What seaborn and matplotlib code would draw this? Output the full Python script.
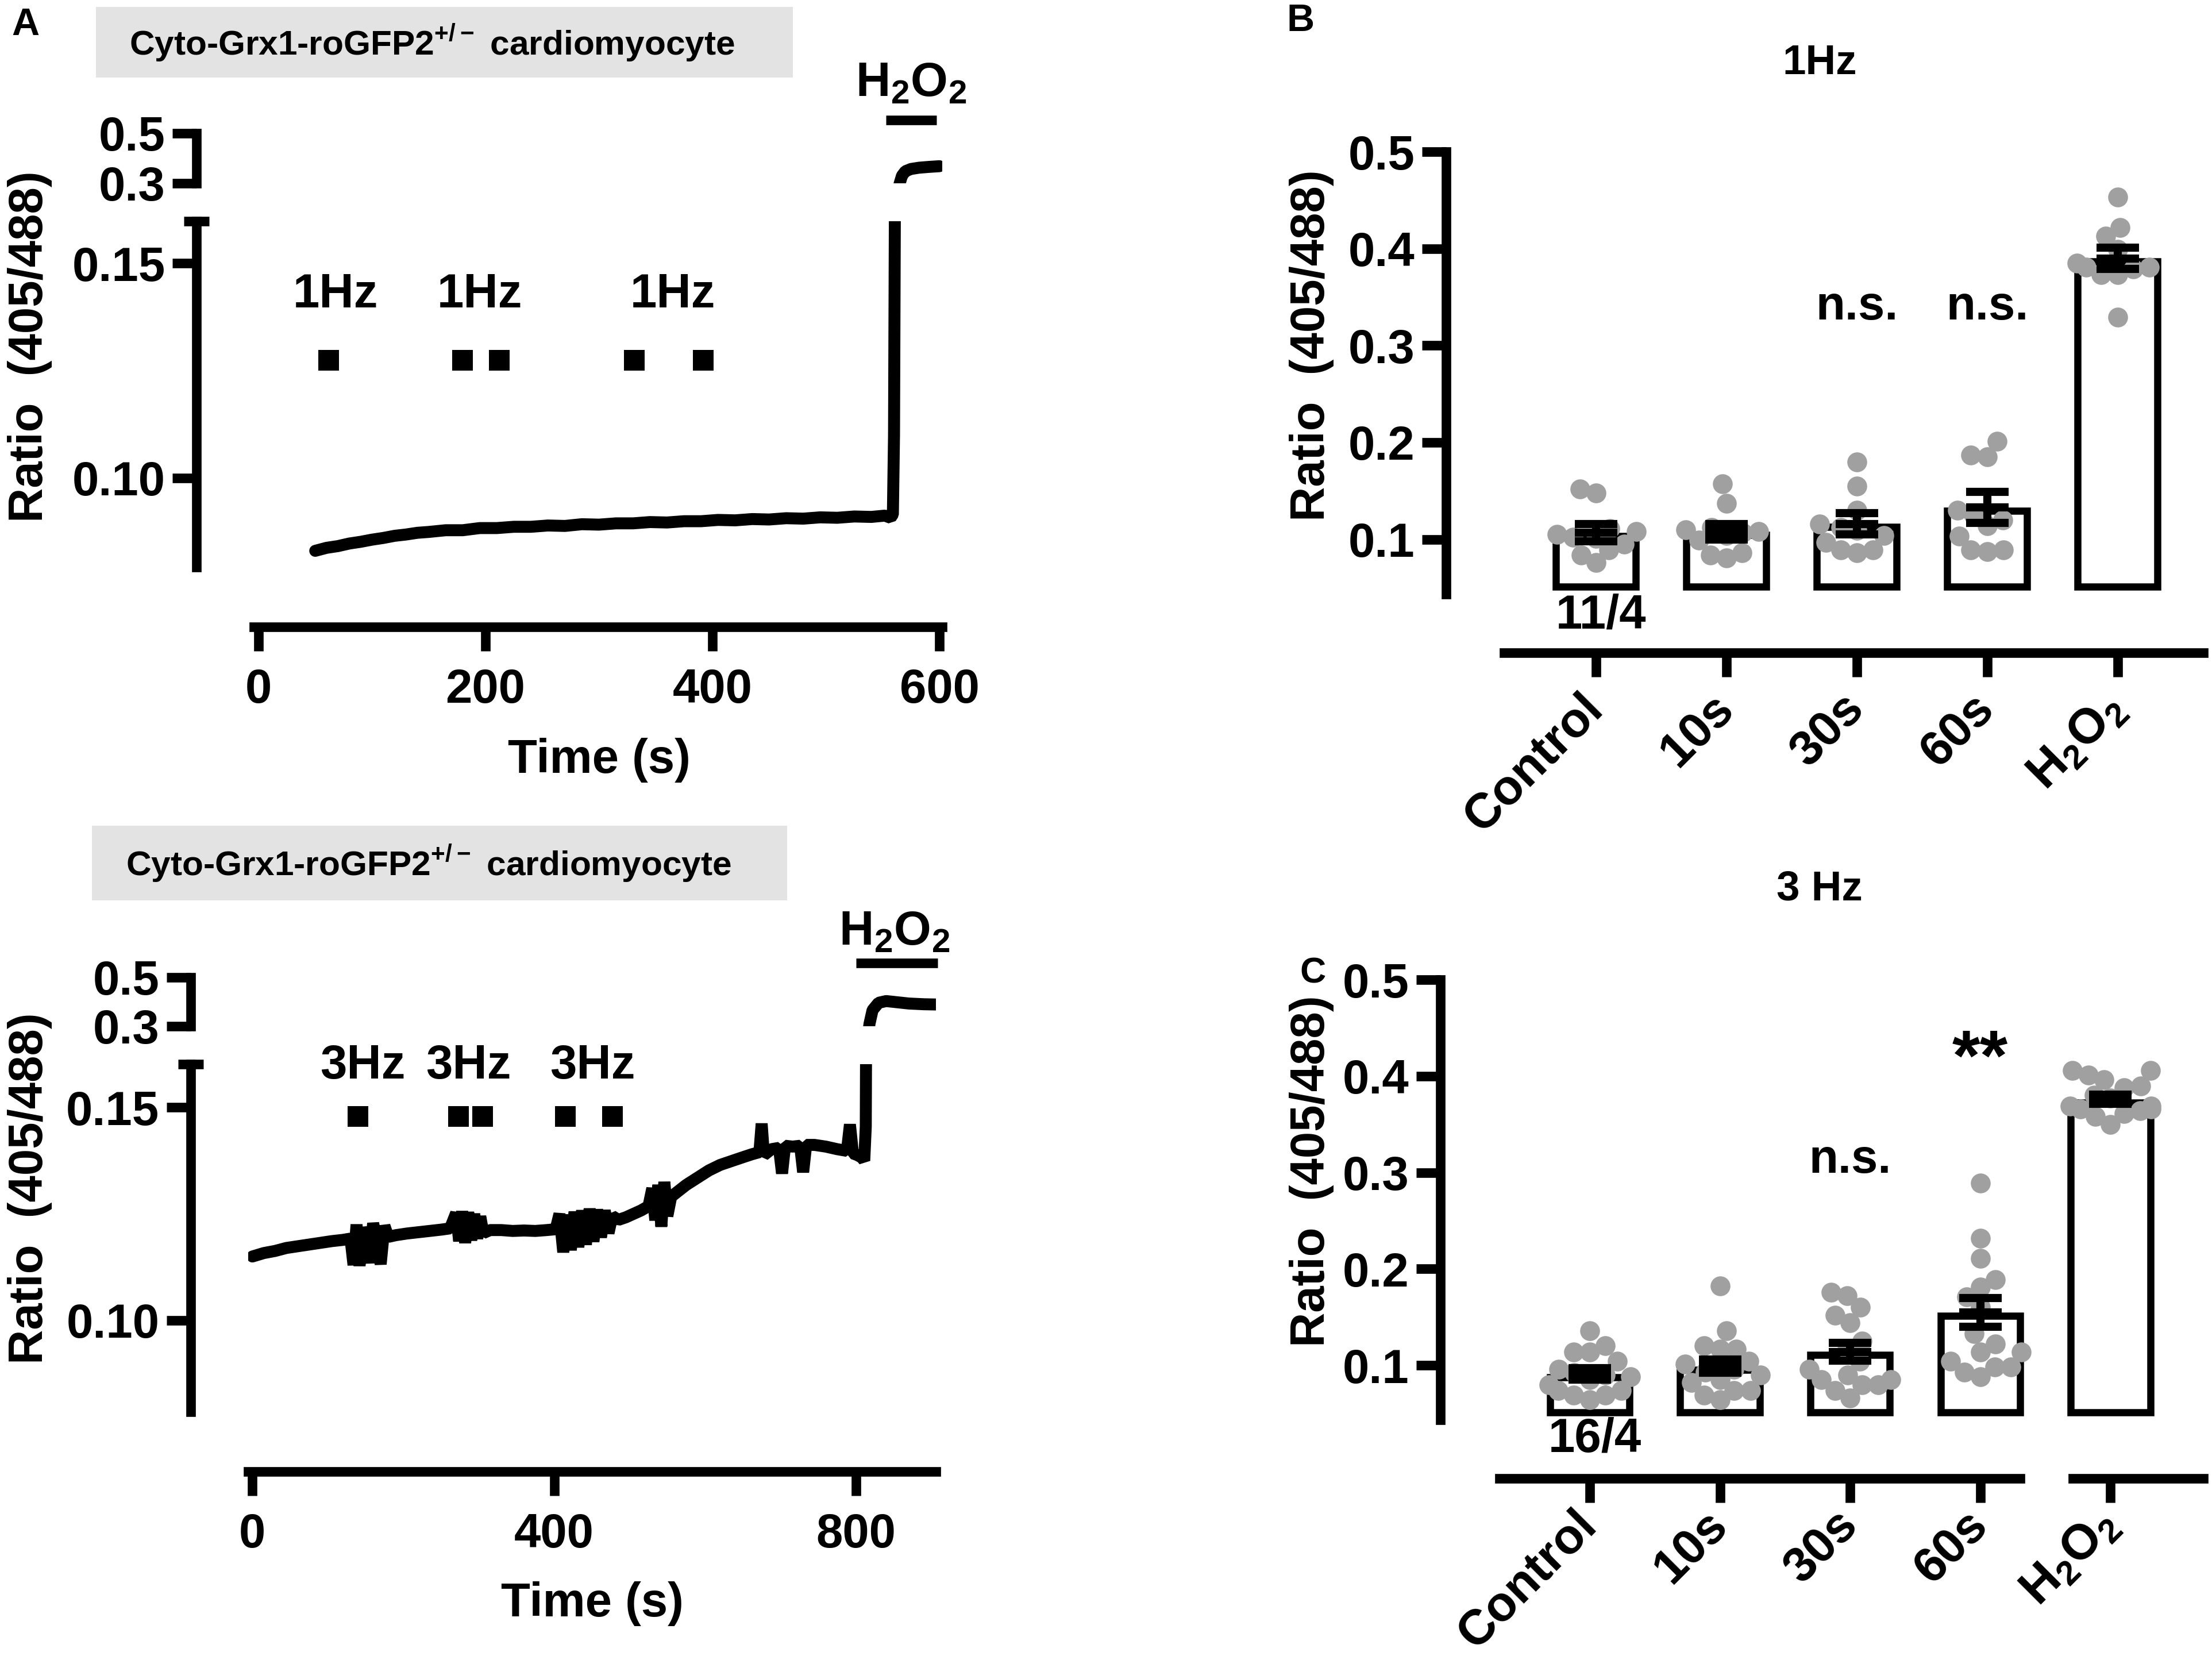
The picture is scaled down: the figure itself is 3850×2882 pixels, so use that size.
import numpy as np
import pandas as pd
import seaborn as sns
import matplotlib.pyplot as plt
from matplotlib.patches import Rectangle

# ---- data ----
# panel A (top): cytosolic ratio trace, 1 Hz pacing, then H2O2
trace_1hz = [(50, .0830), (60, .0837), (70, .0841), (80, .0847), (90, .0851), (100, .0856),
             (110, .0860), (120, .0865), (130, .0868), (140, .0872), (150, .0874), (165, .0878),
             (180, .0878), (195, .0883), (210, .0883), (225, .0886), (240, .0886), (255, .0889),
             (270, .0888), (285, .0892), (300, .0891), (315, .0894), (330, .0894), (345, .0897),
             (360, .0896), (375, .0899), (390, .0899), (405, .0902), (420, .0901), (435, .0904),
             (450, .0903), (465, .0906), (480, .0905), (495, .0908), (510, .0907), (525, .0910),
             (540, .0909), (552, .0912), (557, .0907), (559, .0915), (560, .1100), (561, .1800),
             (563, .2600), (565, .3000), (567, .3300), (570, .3480), (575, .3570), (582, .3620),
             (590, .3650), (600, .3680)]
stim_1hz = [62, 180, 212, 331, 392]
label_1hz = [68, 195, 365]

# panel A (bottom): 3 Hz pacing, then H2O2
trace_3hz = [(0, .1150), (15, .1158), (30, .1163), (45, .1170), (60, .1174), (75, .1178),
             (90, .1182), (105, .1186), (120, .1189), (130, .1192), (134, .1130), (138, .1225),
             (142, .1128), (146, .1218), (150, .1190), (155, .1135), (160, .1228), (165, .1185),
             (170, .1132), (175, .1222), (180, .1196), (190, .1200), (205, .1204), (220, .1207),
             (235, .1210), (250, .1213), (262, .1216), (270, .1252), (274, .1186), (278, .1256),
             (282, .1182), (286, .1254), (290, .1188), (294, .1250), (298, .1192), (302, .1244),
             (306, .1205), (315, .1212), (330, .1212), (345, .1210), (360, .1211), (375, .1210),
             (390, .1212), (402, .1214), (407, .1250), (412, .1160), (417, .1248), (422, .1165),
             (427, .1255), (432, .1172), (437, .1258), (442, .1178), (447, .1262), (452, .1185),
             (457, .1260), (462, .1195), (467, .1258), (472, .1205), (477, .1245), (485, .1236),
             (495, .1242), (505, .1250), (515, .1258), (525, .1268), (530, .1310), (534, .1235),
             (538, .1318), (542, .1220), (546, .1325), (550, .1245), (555, .1290), (562, .1300),
             (575, .1318), (590, .1335), (605, .1352), (620, .1365), (635, .1374), (650, .1383),
             (662, .1390), (672, .1395), (675, .1462), (678, .1388), (688, .1402), (698, .1405),
             (702, .1345), (706, .1410), (716, .1408), (726, .1410), (730, .1348), (734, .1412),
             (745, .1412), (760, .1408), (775, .1402), (788, .1398), (792, .1460), (796, .1392),
             (802, .1388), (808, .1382), (811, .1375), (813, .1455), (815, .2400), (818, .3100),
             (822, .3650), (830, .3950), (840, .4020), (855, .3970), (870, .3920), (890, .3890),
             (906, .3880)]
stim_3hz = [140, 273, 305, 415, 477]
label_3hz = [146, 286, 451]

# panels B / C: single cells, mean and SEM
conds = ["Control", "10s", "30s", "60s", "H2O2"]
cond_labels = ["Control", "10s", "30s", "60s", r"H$_{\mathrm{2}}$O$_{\mathrm{2}}$"]

b_points = {
    "Control": [.148, .152, .101, .111, .095, .084, .089, .076, .105, .108, .102],
    "10s": [.157, .137, .107, .081, .099, .084, .112, .086, .104, .108, .110],
    "30s": [.180, .155, .130, .109, .086, .089, .089, .097, .104, .112, .116],
    "60s": [.201, .185, .187, .114, .103, .089, .089, .087, .130, .125, .120],
    "H2O2": [.453, .422, .413, .399, .381, .379, .381, .373, .373, .329, .385],
}
b_mean = [0.107, 0.108, 0.116, 0.133, 0.390]
b_sem = [0.009, 0.008, 0.011, 0.016, 0.011]

c_points = {
    "Control": [.136, .120, .114, .114, .104, .096, .080, .074, .069, .069, .085, .090, .064, .074, .092, .088],
    "10s": [.182, .136, .120, .117, .117, .104, .101, .096, .085, .082, .074, .069, .064, .074, .090, .093],
    "30s": [.176, .172, .160, .152, .144, .125, .117, .104, .096, .090, .085, .085, .080, .080, .066, .074],
    "60s": [.289, .232, .211, .189, .181, .171, .160, .133, .122, .114, .114, .104, .098, .098, .093, .088],
    "H2O2": [.406, .406, .401, .396, .390, .388, .377, .380, .369, .366, .366, .364, .361, .358, .350, .369],
}
c_mean = [0.091, 0.099, 0.114, 0.155, 0.376]
c_sem = [0.006, 0.007, 0.009, 0.015, 0.005]

# ---- style ----
W, H = 3850, 2882
LW = 4.0
GRAY = "#a0a0a0"
SQUEEZE = 0.78   # Prism packs the dots tighter than a seaborn swarm

sns.set_theme(style="ticks")
plt.rcParams["font.family"] = ["Liberation Sans", "DejaVu Sans"]
plt.rcParams["font.weight"] = "bold"
plt.rcParams["mathtext.fontset"] = "custom"
plt.rcParams["mathtext.rm"] = "Liberation Sans"
plt.rcParams["mathtext.bf"] = "Liberation Sans:bold"
plt.rcParams["axes.linewidth"] = LW
plt.rcParams["axes.edgecolor"] = "black"
plt.rcParams["text.color"] = "black"
plt.rcParams["axes.labelcolor"] = "black"
plt.rcParams["xtick.color"] = "black"
plt.rcParams["ytick.color"] = "black"


def fx(px):
    return px / W


def fy(py):
    return 1 - py / H


def rect(x0, y0, x1, y1):
    return [fx(x0), fy(y1), fx(x1) - fx(x0), fy(y0) - fy(y1)]


def style_axis(ax, size=20):
    for s in ("top", "right"):
        ax.spines[s].set_visible(False)
    for s in ("left", "bottom"):
        ax.spines[s].set_capstyle("projecting")
    ax.tick_params(axis="both", direction="out", length=10, width=LW, labelsize=size, pad=3)
    ax.set_xlabel("")
    ax.set_ylabel("")
    ax.patch.set_alpha(0)


fig = plt.figure(figsize=(W / 300, H / 300), dpi=300)


def trace_panel(lo_box, hi_box, trace, lo_lim, xlim, xticks, stim, stim_y, labels, label_y,
                label_txt, h2o2_x, h2o2_bar, h2o2_y):
    t = [p[0] for p in trace]
    r = [p[1] for p in trace]
    lo = fig.add_axes(rect(*lo_box))
    hi = fig.add_axes(rect(*hi_box))
    for ax in (lo, hi):
        sns.lineplot(x=t, y=r, ax=ax, color="black", lw=5.0, estimator=None, sort=False,
                     solid_joinstyle="bevel")
        style_axis(ax)
        ax.set_xlim(xlim)
        ax.spines["left"].set_position(("outward", 24))
    lo.set_ylim(lo_lim)
    lo.set_yticks([0.10, 0.15])
    lo.set_yticklabels(["0.10", "0.15"])
    lo.spines["bottom"].set_position(("outward", 25))
    lo.set_xticks(xticks)
    lo.set_xticklabels([str(v) for v in xticks])
    lo.tick_params(axis="x", pad=7)
    # break mark at the top of the lower segment
    lo.plot([0], [lo_lim[1]], marker="_", ms=10.5, mew=LW, color="black",
            transform=lo.spines["left"].get_spine_transform(), clip_on=False)

    hi.set_ylim(0.3, 0.5)
    hi.set_yticks([0.3, 0.5])
    hi.set_yticklabels(["0.3", "0.5"])
    hi.spines["bottom"].set_visible(False)
    hi.set_xticks([])

    sns.scatterplot(x=stim, y=[stim_y] * len(stim), ax=lo, marker="s", s=78, color="black",
                    linewidth=0)
    lo.set_xlabel("")
    lo.set_ylabel("")
    for x in labels:
        lo.text(x, label_y, label_txt, ha="center", va="baseline", size=20)

    hi.plot(h2o2_bar, [h2o2_y[0]] * 2, color="black", lw=LW, clip_on=False,
            solid_capstyle="butt")
    hi.text(h2o2_x, h2o2_y[1], r"H$_\mathbf{2}$O$_\mathbf{2}$", ha="center", va="baseline",
            size=20, clip_on=False)
    return lo, hi


# panel A top
trace_panel((442, 385, 1640, 987), (442, 231.5, 1640, 319), trace_1hz, (0.0792, 0.1598),
            (-4, 602.5), [0, 200, 400, 600], stim_1hz, 0.1274, label_1hz, 0.1397, "1Hz",
            575, [553, 597.5], (0.552, 0.647))
# panel A bottom
trace_panel((431.6, 1851.7, 1629, 2456.5), (431.6, 1700.5, 1629, 1785.6), trace_3hz,
            (0.0786, 0.1602), (-5.9, 906), [0, 400, 800], stim_3hz, 0.1479, label_3hz, 0.1568,
            "3Hz", 851, [800, 908.6], (0.5576, 0.633))

# gray headers
for (x0, y0, x1, y1), (tx, ty) in [((167, 12, 1380, 135), (752, 75)),
                                   ((160, 1437, 1370, 1567), (746, 1502))]:
    fig.add_artist(Rectangle((fx(x0), fy(y1)), fx(x1) - fx(x0), fy(y0) - fy(y1),
                             transform=fig.transFigure, facecolor="#e3e3e3",
                             edgecolor="none", zorder=0))
    fig.text(fx(tx), fy(ty), r"Cyto-Grx1-roGFP2$^{\mathbf{+/-}}$ cardiomyocyte",
             ha="center", va="center", size=14.5)

for y in (603, 2068):
    fig.text(fx(52), fy(y), "Ratio  (405/488)", rotation=90, ha="center", va="center", size=20)
fig.text(fx(1043), fy(1323), "Time (s)", ha="center", va="center", size=20)
fig.text(fx(1031), fy(2791), "Time (s)", ha="center", va="center", size=20)

swarm_sets = []


def bar_panel(box, points, means, sems, xlim, bounds, extra=None, label_pad=10.5):
    ax = fig.add_axes(rect(*box))
    df = pd.DataFrame([(c, v) for c in conds for v in points[c]], columns=["cond", "ratio"])
    pos = np.arange(len(conds))
    means = np.array(means)
    base = 0.051
    ax.bar(pos, means - 0.0035 - base, bottom=base, width=0.61, facecolor="white",
           edgecolor="black", linewidth=3.0, zorder=1)
    sns.swarmplot(data=df, x="cond", y="ratio", order=conds, color=GRAY, size=8.3,
                  linewidth=0, warn_thresh=1, ax=ax, zorder=2)
    swarm_sets.extend(ax.collections)
    ax.errorbar(pos, means, yerr=sems, fmt="_", ms=17.6, mew=3.4, color="black",
                ecolor="black", elinewidth=3.4, capsize=8.8, capthick=3.4, zorder=3)
    style_axis(ax)
    ax.set_xlim(xlim)
    ax.set_ylim(0.0434, 0.5)
    ax.set_yticks([0.1, 0.2, 0.3, 0.4, 0.5])
    ax.set_yticklabels(["0.1", "0.2", "0.3", "0.4", "0.5"])
    ax.spines["bottom"].set_position(("outward", 24.5))
    ax.spines["bottom"].set_bounds(*bounds)
    ax.set_xticks(pos)
    ax.set_xticklabels(cond_labels, rotation=45, ha="right", va="center",
                       rotation_mode="anchor", size=20.5)
    ax.tick_params(axis="x", pad=label_pad)
    if extra is not None:
        ax.plot(extra, [0, 0], color="black", lw=LW, solid_capstyle="projecting",
                transform=ax.spines["bottom"].get_spine_transform(), clip_on=False)
    return ax


axb = bar_panel((2517, 264, 3835, 1034), b_points, b_mean, b_sem, (-1.148, 4.658),
                (-0.705, 4.658))
axb.text(2, 0.3396, "n.s.", ha="center", va="center", size=20)
axb.text(3, 0.3396, "n.s.", ha="center", va="center", size=20)
axb.text(0.04, 0.021, "11/4", ha="center", va="center", size=20, clip_on=False)

axc = bar_panel((2507, 1705, 3835, 2471), c_points, c_mean, c_sem, (-1.147, 4.713),
                (-0.693, 3.305), extra=[3.71, 4.713], label_pad=6.5)
axc.text(2, 0.313, "n.s.", ha="center", va="center", size=20)
axc.text(3, 0.415, "**", ha="center", va="center", size=30)
axc.text(0.04, 0.0233, "16/4", ha="center", va="center", size=20, clip_on=False)

fig.text(fx(3167), fy(110), "1Hz", ha="center", va="center", size=17.5)
fig.text(fx(3167), fy(1547), "3 Hz", ha="center", va="center", size=17.5)
fig.text(fx(2283), fy(601), "Ratio  (405/488)", rotation=90, ha="center", va="center", size=20)
fig.text(fx(2283), fy(2038), "Ratio  (405/488)", rotation=90, ha="center", va="center", size=20)

# panel letters
fig.text(fx(20), fy(44), "A", ha="left", va="center", size=16)
fig.text(fx(2240), fy(37), "B", ha="left", va="center", size=16)
fig.text(fx(2262), fy(1694), "C", ha="left", va="center", size=15)

# let seaborn lay out the swarms once, then pack them closer to the bar centre
fig.canvas.draw()
for coll in swarm_sets:
    if "draw" in vars(coll):
        del coll.draw
    off = np.array(coll.get_offsets())
    if len(off):
        centre = np.round(off[:, 0])
        off[:, 0] = centre + (off[:, 0] - centre) * SQUEEZE
        coll.set_offsets(off)

fig.savefig("out.png", dpi=300)
